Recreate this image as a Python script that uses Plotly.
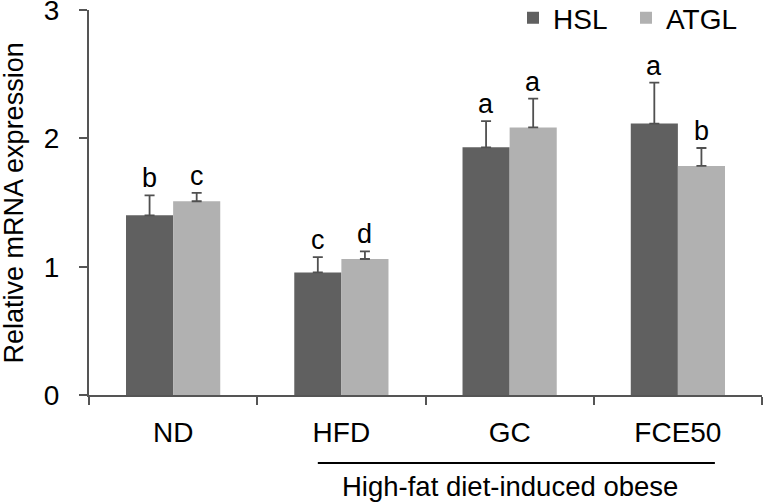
import plotly.graph_objects as go

categories = ["ND", "HFD", "GC", "FCE50"]
hsl_values = [1.40, 0.955, 1.93, 2.115]
hsl_errors = [0.155, 0.12, 0.205, 0.32]
atgl_values = [1.51, 1.06, 2.085, 1.785]
atgl_errors = [0.065, 0.06, 0.225, 0.14]
hsl_letters = ["b", "c", "a", "a"]
atgl_letters = ["c", "d", "a", "b"]
y_ticks = [0, 1, 2, 3]

FONT = "Liberation Sans, Arial, Helvetica, sans-serif"
HSL_COLOR = "#606060"
ATGL_COLOR = "#b1b1b1"
ERR_COLOR = "#505050"
AXIS_COLOR = "#555555"

fig = go.Figure()
fig.add_trace(go.Bar(
    name="HSL", x=categories, y=hsl_values, marker_color=HSL_COLOR,
    marker_line_width=0,
    error_y=dict(type="data", array=hsl_errors, arrayminus=[0] * 4,
                 symmetric=False, color=ERR_COLOR, thickness=1.8, width=5),
))
fig.add_trace(go.Bar(
    name="ATGL", x=categories, y=atgl_values, marker_color=ATGL_COLOR,
    marker_line_width=0,
    error_y=dict(type="data", array=atgl_errors, arrayminus=[0] * 4,
                 symmetric=False, color=ERR_COLOR, thickness=1.8, width=5),
))

annotations = []
for i, cat in enumerate(categories):
    annotations.append(dict(x=cat, y=hsl_values[i] + hsl_errors[i], xref="x", yref="y",
                            text=hsl_letters[i], showarrow=False, xshift=-23.5,
                            yanchor="bottom", yshift=0,
                            font=dict(family=FONT, size=27, color="black")))
    annotations.append(dict(x=cat, y=atgl_values[i] + atgl_errors[i], xref="x", yref="y",
                            text=atgl_letters[i], showarrow=False, xshift=23.5,
                            yanchor="bottom", yshift=0,
                            font=dict(family=FONT, size=27, color="black")))

annotations.append(dict(x=-0.1115, y=0.5, xref="paper", yref="paper",
                        text="Relative mRNA expression", textangle=-90, showarrow=False,
                        xanchor="center", yanchor="middle",
                        font=dict(family=FONT, size=27, color="black")))
annotations.append(dict(x=0.6256, y=-0.2375, xref="paper", yref="paper",
                        text="High-fat diet-induced obese", showarrow=False,
                        xanchor="center", yanchor="middle",
                        font=dict(family=FONT, size=27.5, color="black")))

fig.update_layout(
    width=763, height=502,
    margin=dict(l=89, r=1, t=10, b=107, autoexpand=False),
    paper_bgcolor="white", plot_bgcolor="white",
    barmode="group", bargap=0.44, bargroupgap=0,
    font=dict(family=FONT, size=28, color="black"),
    showlegend=True,
    legend=dict(orientation="h", x=0.630, y=1.044, xanchor="left", yanchor="top",
                font=dict(family=FONT, size=28, color="black"),
                itemwidth=30, entrywidth=68, entrywidthmode="pixels",
                bgcolor="rgba(0,0,0,0)", traceorder="normal"),
    xaxis=dict(type="category", showline=True, linecolor=AXIS_COLOR, linewidth=2,
               ticks="outside", tickson="boundaries", ticklen=8, tickwidth=2,
               tickcolor=AXIS_COLOR, showgrid=False, zeroline=False,
               tickfont=dict(family=FONT, size=28, color="black"),
               ticklabelstandoff=11, fixedrange=True, automargin=False),
    yaxis=dict(range=[0, 3.0005], tickvals=y_ticks, showline=True, linecolor=AXIS_COLOR,
               linewidth=2, ticks="outside", ticklen=8, tickwidth=2, tickcolor=AXIS_COLOR,
               showgrid=False, zeroline=False, ticklabeloverflow="allow",
               tickfont=dict(family=FONT, size=28, color="black"),
               ticklabelstandoff=14, automargin=False),
    annotations=annotations,
    shapes=[dict(type="line", xref="x", yref="paper", x0=0.86, x1=3.22,
                 y0=-0.1766, y1=-0.1766, line=dict(color="black", width=2))],
)

fig.write_html("out.html", config={"displayModeBar": False},
               post_script="document.body.style.margin='0';")
